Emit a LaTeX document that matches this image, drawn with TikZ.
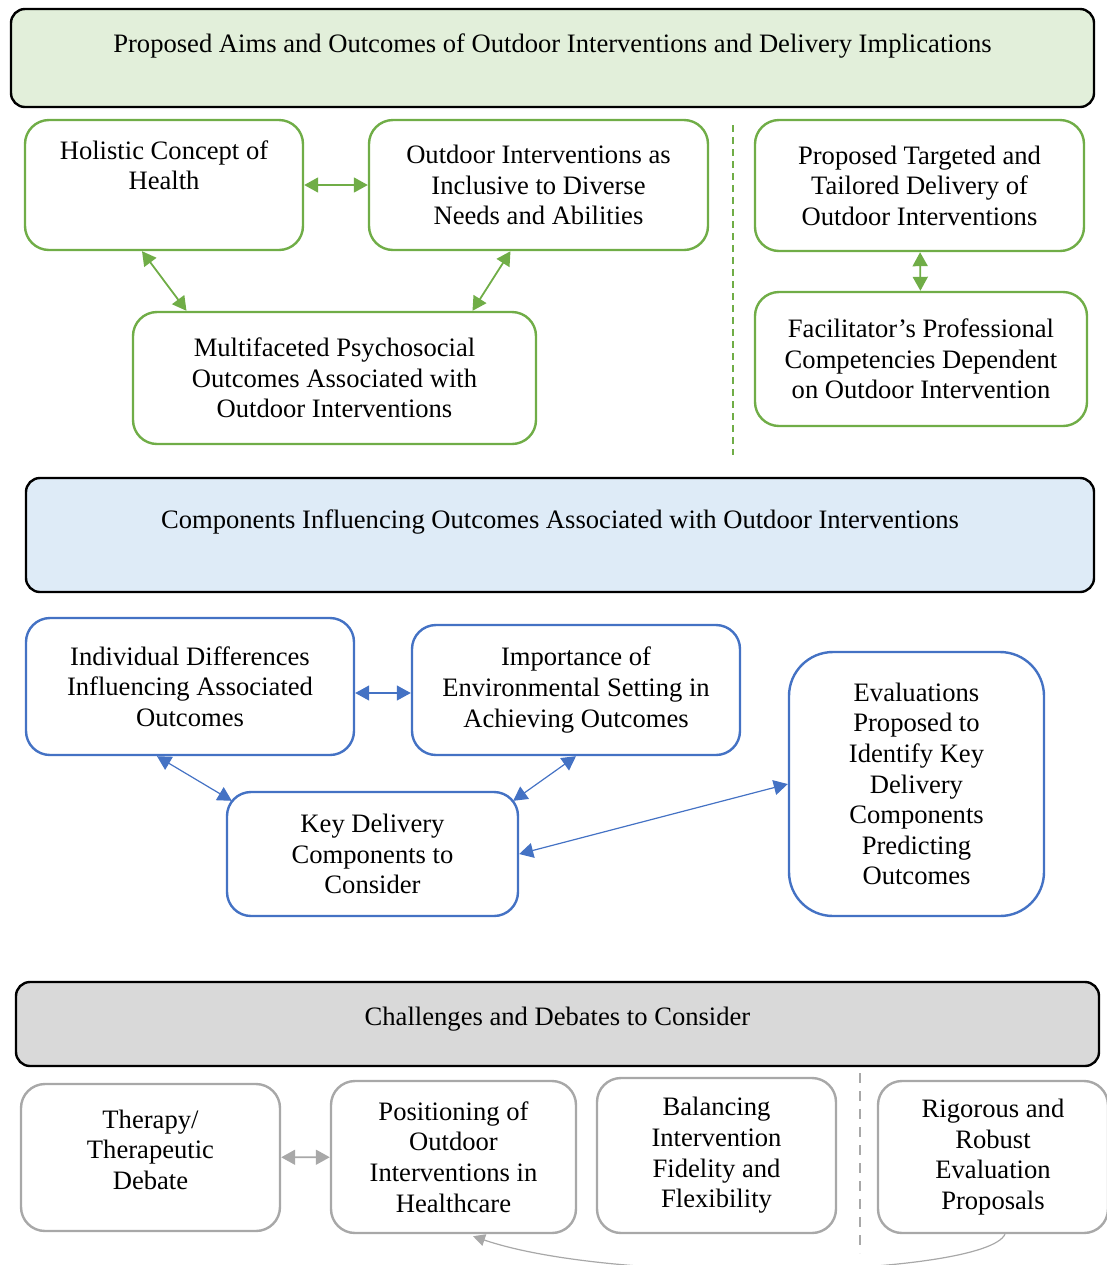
\documentclass[tikz,border=0pt]{standalone}
\usepackage{fontspec}
\setmainfont{Liberation Serif}
\usetikzlibrary{arrows.meta,positioning}
\definecolor{leafline}{RGB}{112,173,71}
\definecolor{leaffill}{RGB}{226,239,218}
\definecolor{skyline}{RGB}{68,114,196}
\definecolor{skyfill}{RGB}{222,235,247}
\definecolor{stone}{RGB}{168,168,168}
\definecolor{stonefill}{RGB}{217,217,217}
\tikzset{
  >={Triangle[length=7pt,width=7.5pt]},
  head/.style={draw=black,fill=#1,rounded corners=7pt,line width=1.2pt,
    inner xsep=0pt,inner ysep=0pt,anchor=base},
  head/.default=leaffill,
  card/.style={draw=#1,fill=white,rounded corners=12pt,line width=1.2pt,
    align=center,inner sep=0pt},
  card/.default=leafline,
  link/.style={<->,draw=#1,line width=0.9pt},
  link/.default=leafline,
  divider/.style={draw=#1,dash pattern=on 3.5pt off 2.5pt,line width=0.9pt},
  divider/.default=leafline,
}
\begin{document}
\begin{tikzpicture}[x=0.5pt,y=-0.5pt,font=\fontsize{13.3}{15.3}\selectfont]
  \useasboundingbox (0,0) rectangle (1107,1265);
  % aims and outcomes
  \node[head=leaffill,minimum width=541.5pt,text height=21.5pt,text depth=27.5pt] (aims) at (552.5,52) {Proposed Aims and Outcomes of Outdoor Interventions and Delivery Implications};
  \node[card,minimum width=139pt,minimum height=65pt] (holistic) at (164,185) {Holistic Concept of\\Health\\\strut};
  \node[card,minimum width=169.5pt,minimum height=65pt] (inclusive) at (538.5,185) {Outdoor Interventions as\\Inclusive to Diverse\\Needs and Abilities};
  \node[card,minimum width=201.5pt,minimum height=66pt] (psycho) at (334.5,378) {Multifaceted Psychosocial\\Outcomes Associated with\\Outdoor Interventions};
  \node[card,minimum width=164.5pt,minimum height=65.5pt] (tailored) at (919.5,185.5) {Proposed Targeted and\\Tailored Delivery of\\Outdoor Interventions};
  \node[card,minimum width=166pt,minimum height=67pt] (facil) at (921,359) {Facilitator’s Professional\\Competencies Dependent\\on Outdoor Intervention};
  \draw[link] (holistic) -- (inclusive);
  \draw[link] ([xshift=-11pt]holistic.south) -- ([xshift=-74pt]psycho.north);
  \draw[link] ([xshift=-14pt]inclusive.south) -- ([xshift=69pt]psycho.north);
  \draw[link] (tailored) -- (facil);
  \draw[divider] (733,125) -- (733,455);

  % components
  \node[head=skyfill,minimum width=534pt,text height=25pt,text depth=32pt] (comp) at (560,528) {Components Influencing Outcomes Associated with Outdoor Interventions};
  \node[card=skyline,minimum width=164pt,minimum height=68.5pt] (indiv) at (190,686.5) {Individual Differences\\Influencing Associated\\Outcomes};
  \node[card=skyline,minimum width=164pt,minimum height=65pt] (setting) at (576,690) {Importance of\\Environmental Setting in\\Achieving Outcomes};
  \node[card=skyline,minimum width=145.5pt,minimum height=62pt] (keydel) at (372.5,854) {Key Delivery\\Components to\\Consider};
  \node[card=skyline,minimum width=127.5pt,minimum height=132pt,rounded corners=22pt] (evals) at (916.5,784) {Evaluations\\Proposed to\\Identify Key\\Delivery\\Components\\Predicting\\Outcomes};
  \draw[link=skyline,line width=0.6pt] ([yshift=-3.25pt]indiv.east) -- ([yshift=-1.5pt]setting.west);
  \draw[link=skyline,line width=0.6pt] ([xshift=-16.5pt]indiv.south) -- ([xshift=3pt,yshift=-5pt]keydel.north west);
  \draw[link=skyline,line width=0.6pt] (setting.south) -- ([xshift=-3pt,yshift=-5pt]keydel.north east);
  \draw[link=skyline,line width=0.6pt] (keydel.east) -- (evals.west);

  % challenges
  \node[head=stonefill,minimum width=541.5pt,text height=21.5pt,text depth=20.5pt] (chall) at (557.5,1025) {Challenges and Debates to Consider};
  \node[card=stone,minimum width=129.5pt,minimum height=73.5pt] (therapy) at (150.5,1157.5) {Therapy/\\Therapeutic\\Debate\\[-7.3pt]\mbox{}};
  \node[card=stone,minimum width=122.5pt,minimum height=76pt] (position) at (453.5,1157) {Positioning of\\Outdoor\\Interventions in\\Healthcare};
  \node[card=stone,minimum width=119.5pt,minimum height=77.5pt] (fidelity) at (716.5,1155.5) {Balancing\\Intervention\\Fidelity and\\Flexibility};
  \node[card=stone,minimum width=115pt,minimum height=76pt] (rigour) at (993,1157) {Rigorous and\\Robust\\Evaluation\\Proposals};
  \draw[link=stone] (therapy) -- (position);
  \draw[divider=stone,dash pattern=on 5pt off 4pt,line width=0.6pt] (860,1073) -- (860,1253);
  \draw[link=stone,->,line width=0.6pt,>={Triangle[length=6pt,width=6pt]}] ([xshift=6pt]rigour.south) .. controls +(-20,42) and +(147,50) .. ([xshift=9.75pt,yshift=-1pt]position.south);
\end{tikzpicture}
\end{document}
